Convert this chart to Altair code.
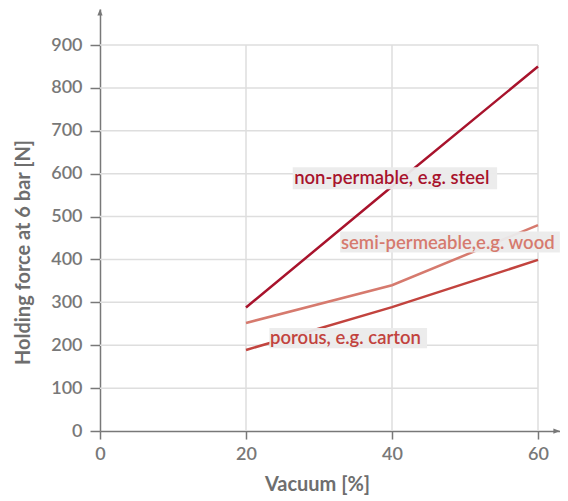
import altair as alt
import pandas as pd

# ---- data ----
vacuum = [20, 40, 60]
steel = [288, 570, 850]
wood = [252, 340, 480]
carton = [189, 289, 399]
series_names = ["non-permable, e.g. steel", "semi-permeable,e.g. wood", "porous, e.g. carton"]
series_colors = ["#a8132c", "#d67a6e", "#c2433e"]

x_ticks = [0, 20, 40, 60]
y_ticks = [0, 100, 200, 300, 400, 500, 600, 700, 800, 900]
grid_x = [20, 40, 60]
grid_y = [100, 200, 300, 400, 500, 600, 700, 800, 900]

# label anchors (data units) and label backgrounds
label_x = [26.6, 33.0, 23.3]
label_y = [590, 438, 217]
box_x1 = [26.4, 32.9, 23.2]
box_x2 = [54.4, 63.0, 44.8]
box_y1 = [564, 416, 193]
box_y2 = [615, 465, 240]

X_MAX = 63
Y_MAX = 984
FONT = "Lato"
AXIS_GRAY = "#787878"

rows = []
for name, vals in zip(series_names, [steel, wood, carton]):
    for v, f in zip(vacuum, vals):
        rows.append({"series": name, "vacuum": v, "force": f})
lines_df = pd.DataFrame(rows)

labels_df = pd.DataFrame({
    "series": series_names, "lx": label_x, "ly": label_y,
    "x1": box_x1, "x2": box_x2, "y1": box_y1, "y2": box_y2,
})

xs = alt.Scale(domain=[0, X_MAX], nice=False, zero=False)
ys = alt.Scale(domain=[0, Y_MAX], nice=False, zero=False)
color = alt.Color("series:N", scale=alt.Scale(domain=series_names, range=series_colors), legend=None)

hgrid = alt.Chart(pd.DataFrame({"y": grid_y, "x1": 0, "x2": 60})).mark_rule(
    color="#dedede", strokeWidth=1.5
).encode(
    x=alt.X("x1:Q", scale=xs, axis=alt.Axis(
        values=x_ticks, title="Vacuum [%]", grid=False, labelFlush=False,
        domainColor=AXIS_GRAY, domainWidth=1.5, tickColor=AXIS_GRAY, tickWidth=1.5, tickSize=8,
        labelFont=FONT, labelFontSize=18, labelFontWeight=600, labelColor=AXIS_GRAY, labelPadding=6,
        titleFont=FONT, titleFontSize=20, titleFontWeight=700, titleColor="#6e6e6e",
        titleX=217, titleY=53, titleBaseline="middle", titleAnchor=None)),
    x2="x2:Q",
    y=alt.Y("y:Q", scale=ys, axis=alt.Axis(
        values=y_ticks, title="Holding force at 6 bar [N]", grid=False, labelFlush=False,
        domainColor=AXIS_GRAY, domainWidth=1.5, tickColor=AXIS_GRAY, tickWidth=1.5, tickSize=10,
        labelFont=FONT, labelFontSize=18, labelFontWeight=600, labelColor=AXIS_GRAY, labelPadding=8,
        titleFont=FONT, titleFontSize=20, titleFontWeight=700, titleColor="#6e6e6e",
        titleX=-76, titleY=243, titleAngle=270, titleAlign="center", titleBaseline="middle")),
)

vgrid = alt.Chart(pd.DataFrame({"x": grid_x, "y1": 0, "y2": 900})).mark_rule(
    color="#dedede", strokeWidth=1.5
).encode(x=alt.X("x:Q", scale=xs), y=alt.Y("y1:Q", scale=ys), y2="y2:Q")

lines = alt.Chart(lines_df).mark_line(strokeWidth=2.5).encode(
    x=alt.X("vacuum:Q", scale=xs), y=alt.Y("force:Q", scale=ys), color=color,
    detail="series:N",
)

boxes = alt.Chart(labels_df).mark_rect(color="#ebebeb", opacity=0.95).encode(
    x=alt.X("x1:Q", scale=xs), x2="x2:Q", y=alt.Y("y1:Q", scale=ys), y2="y2:Q",
)

texts = alt.Chart(labels_df).mark_text(
    align="left", baseline="middle", font=FONT, fontSize=18.5, fontWeight=600
).encode(
    x=alt.X("lx:Q", scale=xs), y=alt.Y("ly:Q", scale=ys), text="series:N", color=color,
)

arrow_up = alt.Chart(pd.DataFrame({"a": [0]})).mark_point(
    shape="M-0.4,1L0,0L0.4,1Z", filled=True, size=169, color=AXIS_GRAY, opacity=1
).encode(x=alt.value(0), y=alt.value(0))

arrow_right = alt.Chart(pd.DataFrame({"a": [0]})).mark_point(
    shape="M-1,-0.4L0,0L-1,0.4Z", filled=True, size=169, color=AXIS_GRAY, opacity=1
).encode(x=alt.value(X_MAX * 7.3), y=alt.value(Y_MAX * 0.4289))

chart = alt.layer(hgrid, vgrid, lines, boxes, texts, arrow_up, arrow_right).properties(
    width=X_MAX * 7.3, height=Y_MAX * 0.4289,
    autosize=alt.AutoSizeParams(type="none"),
    padding={"left": 92, "top": 1, "right": 0, "bottom": 70},
).configure_view(stroke=None)

chart.save("out.html", embed_options={"renderer": "svg", "actions": False})
